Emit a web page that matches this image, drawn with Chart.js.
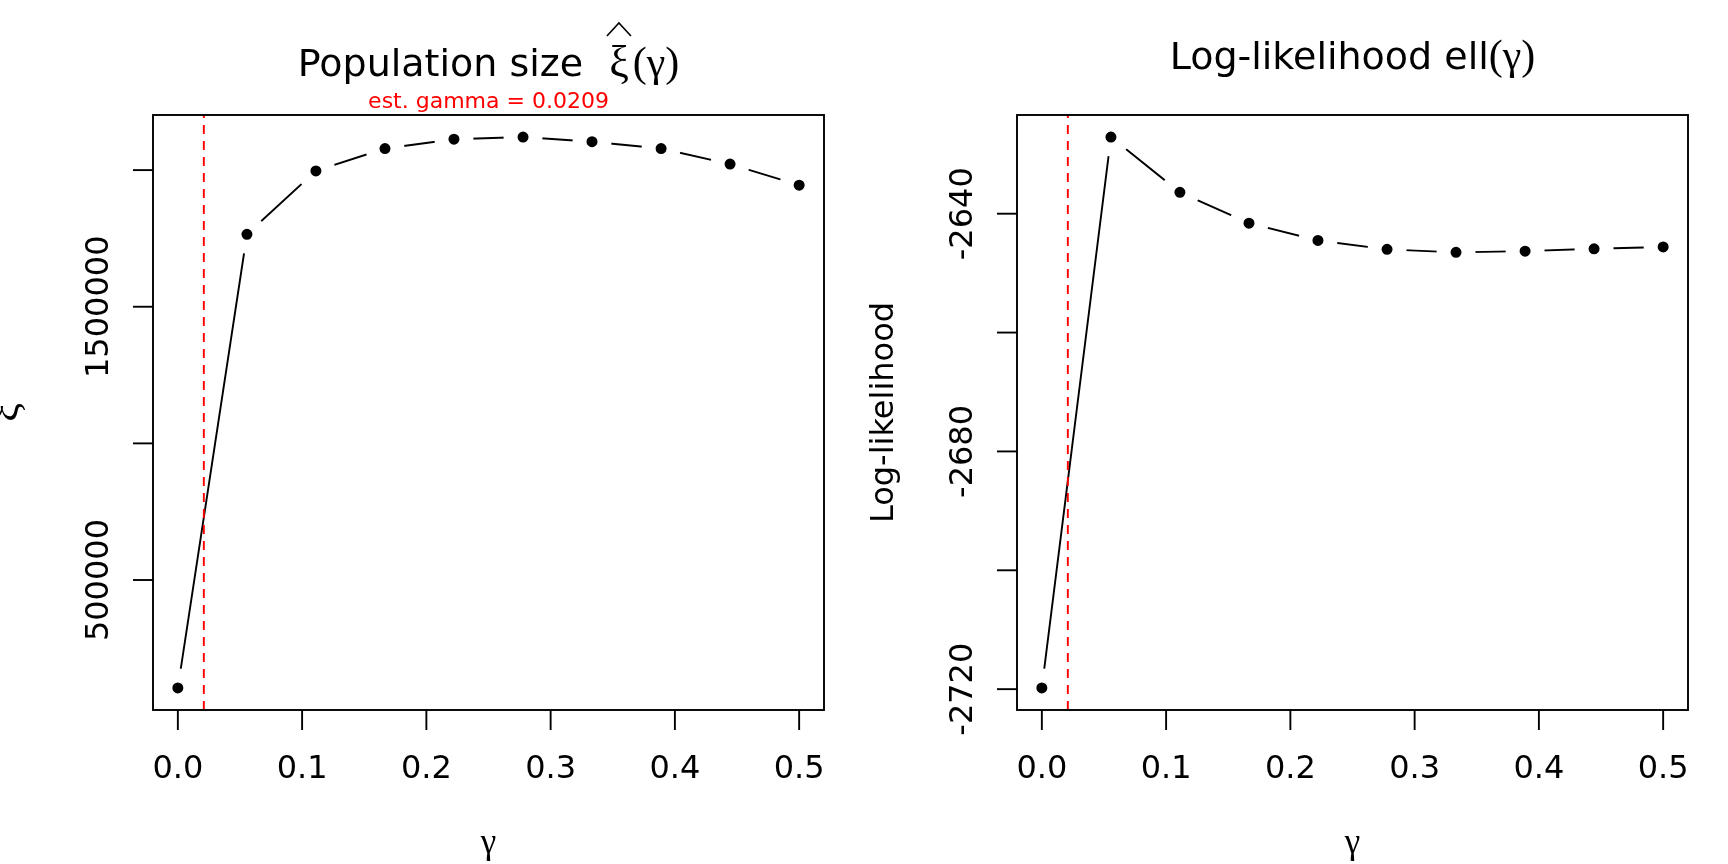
<!DOCTYPE html>
<html>
<head>
<meta charset="utf-8">
<script src="https://cdn.jsdelivr.net/npm/chart.js@4.4.1/dist/chart.umd.min.js"></script>
<style>
  html, body { margin: 0; padding: 0; background: #fff; overflow: hidden; }
  #wrap { position: relative; width: 1728px; height: 864px; }
  canvas { position: absolute; top: 0; }
</style>
</head>
<body>
<div id="wrap">
  <canvas id="popChart" width="864" height="864" style="left:0"></canvas>
  <canvas id="llChart" width="864" height="864" style="left:864px"></canvas>
</div>
<script>
// values
const gammaVals = [0, 0.0556, 0.1111, 0.1667, 0.2222, 0.2778, 0.3333, 0.3889, 0.4444, 0.5];
const popSize = [105000, 1765000, 1997000, 2079000, 2113000, 2121000, 2104000, 2079000, 2022000, 1945000];
const logLik = [-2719.8, -2627.1, -2636.4, -2641.6, -2644.5, -2646.0, -2646.5, -2646.3, -2645.9, -2645.6];
const estGamma = 0.0209;

const gammaTicks = [0, 0.1, 0.2, 0.3, 0.4, 0.5];
const gammaTickLabels = ['0.0', '0.1', '0.2', '0.3', '0.4', '0.5'];
const popTicks = [500000, 1000000, 1500000, 2000000];
const popTickLabels = ['500000', '', '1500000', ''];
const llTicks = [-2720, -2700, -2680, -2660, -2640];
const llTickLabels = ['-2720', '', '-2680', '', '-2640'];

const SANS = '"DejaVu Sans", sans-serif';
const SERIF = '"Liberation Serif", "DejaVu Serif", serif';

// R style axis range: data range stretched 4% each side
function padRange(arr) {
  const lo = Math.min(...arr), hi = Math.max(...arr);
  const d = (hi - lo) * 0.04;
  return [lo - d, hi + d];
}

function seg(ctx, x1, y1, x2, y2) {
  ctx.beginPath();
  ctx.moveTo(x1, y1);
  ctx.lineTo(x2, y2);
  ctx.stroke();
}

// draw a title built from pieces of text in different fonts, centred on cx
function drawPieces(ctx, pieces, cx, base) {
  let total = 0;
  pieces.forEach(p => {
    ctx.font = p.font;
    p.w = p.text ? ctx.measureText(p.text).width : 0;
    total += p.w + (p.gap || 0);
  });
  let x = cx - total / 2;
  ctx.textAlign = 'left';
  ctx.textBaseline = 'alphabetic';
  pieces.forEach(p => {
    x += p.gap || 0;
    ctx.font = p.font;
    ctx.fillStyle = '#000';
    ctx.fillText(p.text, x, base);
    if (p.hat) {
      const mx = x + p.w / 2;
      ctx.strokeStyle = '#000';
      ctx.lineWidth = 1.6;
      ctx.beginPath();
      ctx.moveTo(mx - 12, base - 40);
      ctx.lineTo(mx, base - 53);
      ctx.lineTo(mx + 12, base - 40);
      ctx.stroke();
    }
    x += p.w;
  });
}

function rPanel(canvasId, opts) {
  const xr = padRange(gammaVals);
  const yr = padRange(opts.values);

  const frame = {
    id: 'rframe',
    afterDatasetsDraw(chart) {
      const { ctx, chartArea: a, scales: { x } } = chart;
      ctx.save();
      ctx.beginPath();
      ctx.rect(a.left, a.top, a.right - a.left, a.bottom - a.top);
      ctx.clip();
      ctx.strokeStyle = '#ff0000';
      ctx.lineWidth = 1.9;
      ctx.setLineDash([9, 7]);
      const ex = x.getPixelForValue(estGamma);
      seg(ctx, ex, a.bottom, ex, a.top);
      ctx.restore();
    },
    afterDraw(chart) {
      const { ctx, chartArea: a, scales: { x, y } } = chart;
      ctx.save();
      ctx.strokeStyle = '#000';
      ctx.fillStyle = '#000';
      ctx.lineWidth = 1.9;
      ctx.strokeRect(a.left, a.top, a.right - a.left, a.bottom - a.top);

      // x axis
      ctx.font = '32px ' + SANS;
      ctx.textAlign = 'center';
      ctx.textBaseline = 'alphabetic';
      gammaTicks.forEach((v, i) => {
        const px = x.getPixelForValue(v);
        seg(ctx, px, a.bottom, px, a.bottom + 20);
        ctx.fillText(gammaTickLabels[i], px, a.bottom + 68);
      });

      // y axis, labels rotated like R's las = 0
      opts.yTicks.forEach((v, i) => {
        const py = y.getPixelForValue(v);
        seg(ctx, a.left - 20, py, a.left, py);
        if (opts.yLabels[i]) {
          ctx.save();
          ctx.translate(a.left - 45, py);
          ctx.rotate(-Math.PI / 2);
          ctx.fillText(opts.yLabels[i], 0, 0);
          ctx.restore();
        }
      });

      // axis titles
      const midX = (a.left + a.right) / 2;
      const midY = (a.top + a.bottom) / 2;
      ctx.font = '35px ' + SERIF;
      ctx.fillText('\u03b3', midX, a.bottom + 143);
      ctx.save();
      ctx.translate(a.left - opts.yTitleOff, midY);
      ctx.rotate(-Math.PI / 2);
      ctx.font = opts.yTitleFont;
      ctx.fillText(opts.yTitle, 0, 0);
      ctx.restore();

      // main title and subtitle
      drawPieces(ctx, opts.title, midX, opts.titleBase);
      if (opts.sub) {
        ctx.font = '22px ' + SANS;
        ctx.fillStyle = '#ff0000';
        ctx.textAlign = 'center';
        ctx.fillText(opts.sub, midX, a.top - 7);
      }
      ctx.restore();
    }
  };

  return new Chart(document.getElementById(canvasId), {
    type: 'scatter',
    data: {
      datasets: [{
        data: gammaVals.map((g, i) => ({ x: g, y: opts.values[i] })),
        showLine: true,
        tension: 0,
        borderColor: '#000',
        borderWidth: 1.9,
        // white ring around each point gives R's type = "b" gaps
        pointRadius: 12.5,
        pointHoverRadius: 12.5,
        pointBorderWidth: 14,
        pointHoverBorderWidth: 14,
        pointBackgroundColor: '#000',
        pointBorderColor: '#fff',
        clip: false
      }]
    },
    options: {
      responsive: false,
      animation: false,
      events: [],
      layout: { padding: { left: 153, right: 40, top: 115, bottom: 154 } },
      scales: {
        x: { type: 'linear', min: xr[0], max: xr[1], display: false },
        y: { type: 'linear', min: yr[0], max: yr[1], display: false }
      },
      plugins: { legend: { display: false }, tooltip: { enabled: false } }
    },
    plugins: [frame]
  });
}

rPanel('popChart', {
  values: popSize,
  yTicks: popTicks,
  yLabels: popTickLabels,
  yTitle: '\u03be',
  yTitleFont: '42px ' + SERIF,
  yTitleOff: 135,
  title: [
    { text: 'Population size', font: '38px ' + SANS },
    { text: '\u03be', font: '44px ' + SERIF, gap: 26, hat: true },
    { text: '(\u03b3)', font: '42px ' + SERIF, gap: 4 }
  ],
  titleBase: 76,
  sub: 'est. gamma = 0.0209'
});

rPanel('llChart', {
  values: logLik,
  yTicks: llTicks,
  yLabels: llTickLabels,
  yTitle: 'Log-likelihood',
  yTitleFont: '32px ' + SANS,
  yTitleOff: 124,
  title: [
    { text: 'Log-likelihood ell', font: '38px ' + SANS },
    { text: '(\u03b3)', font: '42px ' + SERIF }
  ],
  titleBase: 69
});
</script>
</body>
</html>
